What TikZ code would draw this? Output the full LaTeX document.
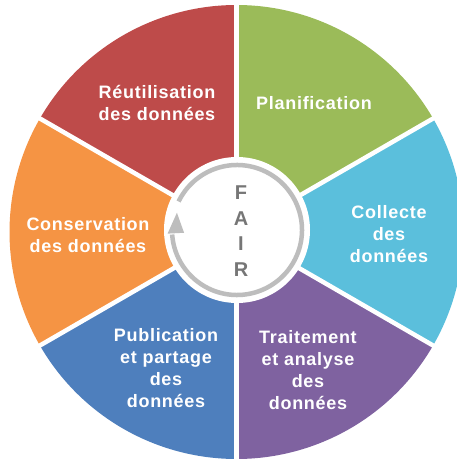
\documentclass[tikz,border=0pt]{standalone}
\usepackage{fontspec}
\setmainfont{Liberation Sans}
\newfontfamily\labfont{Liberation Sans}[LetterSpace=4]
\usetikzlibrary{calc}
\definecolor{cred}{HTML}{BE4B4A}
\definecolor{cgreen}{HTML}{9BBB59}
\definecolor{ccyan}{HTML}{5BBFDC}
\definecolor{cpurple}{HTML}{7F62A0}
\definecolor{cblue}{HTML}{4E7FBD}
\definecolor{corange}{HTML}{F59444}
\definecolor{ringgray}{HTML}{BDBDBD}
\definecolor{fairgray}{HTML}{767676}
\tikzset{
  sep/.style={draw=white, line width=4.5pt},
  lab/.style={text=white, align=center, font=\labfont\bfseries\fontsize{18}{22}\selectfont, inner sep=0pt},
  fair/.style={text=fairgray, align=center, font=\bfseries\fontsize{20}{25.5}\selectfont, inner sep=0pt}
}
\begin{document}
\begin{tikzpicture}[x=1pt,y=1pt]
\clip (0,0) rectangle (457,461);
\coordinate (c) at (236.5,229);
\coordinate (ic) at (237,231);
\def\R{227}
\fill[cred]    (c) -- ++(90:\R)  arc[start angle=90,  end angle=150, radius=\R] -- cycle;
\fill[cgreen]  (c) -- ++(30:\R)  arc[start angle=30,  end angle=90,  radius=\R] -- cycle;
\fill[ccyan]   (c) -- ++(-30:\R) arc[start angle=-30, end angle=30,  radius=\R] -- cycle;
\fill[cpurple] (c) -- ++(-90:\R) arc[start angle=-90, end angle=-30, radius=\R] -- cycle;
\fill[cblue]   (c) -- ++(-150:\R) arc[start angle=-150, end angle=-90, radius=\R] -- cycle;
\fill[corange] (c) -- ++(150:\R) arc[start angle=150, end angle=210, radius=\R] -- cycle;
\foreach \a in {30,90,150,210,270,330}
  \draw[sep] (c) -- ++(\a:240);
\fill[white] (ic) circle[radius=73];
\draw[ringgray, line width=4.5pt]
  (ic) ++(154:65) arc[start angle=154, end angle=-176, radius=65];
\fill[ringgray] ($(ic)+(183:69.5)$) -- ($(ic)+(183:53)$) -- ($(ic)+(164:62.5)$) -- cycle;
\node[fair] (fairtxt) at (241,230) {F\\A\\I\\R};
\node[lab] (reut)  at (157,358) {Réutilisation\\des données};
\node[lab] (plan)  at (314,358) {Planification};
\node[lab] (coll)  at (389,227) {Collecte\\des\\données};
\node[lab] (cons)  at (88,226)  {Conservation\\des données};
\node[lab] (pub)   at (166,93)  {Publication\\et partage\\des\\données};
\node[lab] (trait) at (308,91)  {Traitement\\et analyse\\des\\données};
\end{tikzpicture}
\end{document}
